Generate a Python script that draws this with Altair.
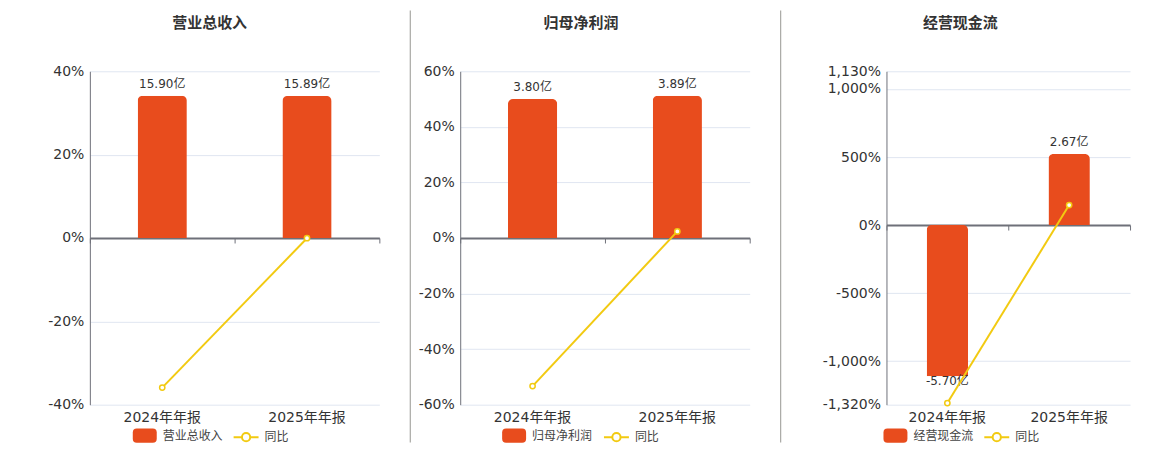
import altair as alt
import pandas as pd

categories = ["2024年年报", "2025年年报"]
panel_titles = ["营业总收入", "归母净利润", "经营现金流"]

revenue = [15.90, 15.89]
revenue_yoy = [-35.9, -0.06]
profit = [3.80, 3.89]
profit_yoy = [-53.3, 2.37]
cashflow = [-5.70, 2.67]
cashflow_yoy = [-1308.0, 146.8]

pct_domains = [[-40, 40], [-60, 60], [-1320, 1130]]
pct_ticks = [[-40, -20, 0, 20, 40], [-60, -40, -20, 0, 20, 40, 60],
             [-1320, -1000, -500, 0, 500, 1000, 1130]]
bar_domains = [[-18.65, 18.65], [-4.56, 4.56], [-6.77, 5.79]]

BAR = "#E84C1D"
LINE = "#F2CA11"
AXIS = "#6E7079"
GRID = "#E0E6F1"
TXT = "#333333"
FONT = "DejaVu Sans, Noto Sans CJK SC"

H = 334
widths = [290, 290, 244]
title_x = [120, 121, 74]
legend_x = [(43, 143), (42, 143), (-3, 97)]
left_edge = [-82, -50, -106]   # section edges relative to plot left
right_edge = [30, 30, 22]

BAR_PATH = ("M-0.67,-0.6 L0.67,-0.6 Q1,-0.6 1,-0.27 L1,0.27 Q1,0.6 0.67,0.6 "
            "L-0.67,0.6 Q-1,0.6 -1,0.27 L-1,-0.27 Q-1,-0.6 -0.67,-0.6 Z")
LINE_PATH = ("M-1,0 L-0.33,0 M0.33,0 L1,0 M-0.33,0 A0.33,0.33 0 1,0 0.33,0 "
             "A0.33,0.33 0 1,0 -0.33,0 Z")

series_bar = [revenue, profit, cashflow]
series_yoy = [revenue_yoy, profit_yoy, cashflow_yoy]


def make_panel(i):
    df = pd.DataFrame({
        "cat": categories,
        "val": series_bar[i],
        "yoy": series_yoy[i],
        "label": [f"{v:.2f}亿" for v in series_bar[i]],
        "bar_series": [panel_titles[i]] * 2,
        "line_series": ["同比"] * 2,
    })
    W = widths[i]
    xscale = alt.Scale(domain=categories, paddingInner=0, paddingOuter=0)
    pdom = pct_domains[i]
    zero_from_bottom = H * (0 - pdom[0]) / (pdom[1] - pdom[0])
    base = alt.Chart(df)

    x_plain = alt.X("cat:N", scale=xscale, sort=categories, title=None)

    bar_y = alt.Y("val:Q", scale=alt.Scale(domain=bar_domains[i], nice=False, zero=False),
                  axis=None)
    bars = base.mark_bar(width=alt.RelativeBandSize(0.34), cornerRadiusEnd=5).encode(
        x=alt.X("cat:N", scale=xscale, sort=categories, title=None,
                axis=alt.Axis(orient="bottom", domain=False, ticks=False, labelAngle=0,
                              labelFontSize=14, labelColor=TXT, labelFont=FONT,
                              labelPadding=6, grid=False, title=None)),
        y=bar_y,
        fill=alt.Fill("bar_series:N", scale=alt.Scale(range=[BAR]),
                      legend=alt.Legend(orient="none", legendX=legend_x[i][0], legendY=353,
                                        title=None, padding=0, symbolType=BAR_PATH,
                                        symbolSize=576, labelFontSize=12, labelColor="#444444",
                                        labelFont=FONT, labelOffset=6, symbolStrokeWidth=0)),
    )
    pos_labels = base.transform_filter("datum.val >= 0").mark_text(
        baseline="bottom", dy=-5, fontSize=12, color=TXT, font=FONT
    ).encode(x=x_plain, y=bar_y, text="label:N")
    neg_labels = base.transform_filter("datum.val < 0").mark_text(
        baseline="top", dy=0, fontSize=12, color=TXT, font=FONT
    ).encode(x=x_plain, y=bar_y, text="label:N")
    bar_group = alt.layer(bars, pos_labels, neg_labels)

    pct_y = alt.Y("yoy:Q", scale=alt.Scale(domain=pdom, nice=False, zero=False), title=None,
                  axis=alt.Axis(orient="left", values=pct_ticks[i],
                                labelExpr="(datum.value < 0 ? '-' : '') + format(abs(datum.value), ',') + '%'",
                                grid=True, gridColor=GRID, gridWidth=1, domain=True,
                                domainColor=AXIS, domainWidth=1, ticks=False,
                                labelFontSize=14, labelColor=TXT, labelFont=FONT,
                                labelPadding=6, labelOverlap=False, title=None))
    line = base.mark_line(strokeWidth=2).encode(
        x=alt.X("cat:N", scale=xscale, sort=categories, title=None,
                axis=alt.Axis(orient="bottom", offset=-zero_from_bottom, labels=False,
                              domain=True, domainColor=AXIS, domainWidth=2,
                              ticks=True, tickColor=AXIS, tickSize=5, tickWidth=1,
                              tickBand="extent", grid=False, title=None)),
        y=pct_y,
        stroke=alt.Stroke("line_series:N", scale=alt.Scale(range=[LINE]),
                          legend=alt.Legend(orient="none", legendX=legend_x[i][1], legendY=353,
                                            title=None, padding=0, symbolType=LINE_PATH,
                                            symbolSize=625, symbolStrokeWidth=2,
                                            symbolFillColor="white", labelFontSize=12,
                                            labelColor="#444444", labelFont=FONT,
                                            labelOffset=5)),
    )
    points = base.mark_point(filled=True, fill="white", stroke=LINE, strokeWidth=1.5,
                             size=28, opacity=1).encode(x=x_plain, y=alt.Y("yoy:Q"))
    line_group = alt.layer(line, points)

    title_df = pd.DataFrame({"t": [panel_titles[i]]})
    title = alt.Chart(title_df).mark_text(
        fontSize=15, fontWeight="bold", color=TXT, font=FONT, align="center", baseline="middle"
    ).encode(text="t:N", x=alt.value(title_x[i]), y=alt.value(-48))

    layers = [bar_group, line_group, title]
    # invisible anchors fixing each panel's section extent
    layers.append(alt.Chart(title_df).mark_rule(strokeOpacity=0).encode(
        x=alt.value(W + right_edge[i]), y=alt.value(0), y2=alt.value(10)))
    if i == 0:
        layers.append(alt.Chart(title_df).mark_rule(strokeOpacity=0).encode(
            x=alt.value(left_edge[i]), y=alt.value(-63), y2=alt.value(-50)))
    else:
        layers.append(alt.Chart(title_df).mark_rule(color="#A8A8A4", strokeWidth=1.2).encode(
            x=alt.value(left_edge[i]), y=alt.value(-61), y2=alt.value(372)))

    return alt.layer(*layers).resolve_scale(y="independent").resolve_axis(
        x="independent", y="independent").properties(width=W, height=H)


panels = [make_panel(i) for i in range(3)]

chart = alt.hconcat(*panels, spacing=0).resolve_scale(
    fill="independent", stroke="independent").resolve_legend(
    fill="independent", stroke="independent").properties(padding=0).configure(
    font=FONT).configure_view(strokeWidth=0, stroke="transparent")

chart.save("out.html", embed_options={"renderer": "svg", "actions": False})
